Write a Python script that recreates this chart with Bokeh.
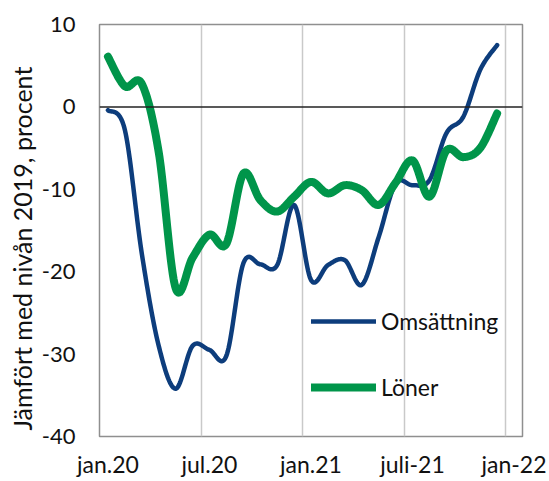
import numpy as np
from bokeh.plotting import figure
from bokeh.models import (Range1d, FixedTicker, Span, Legend, LegendItem, Title)
from bokeh.embed import file_html
from bokeh.resources import INLINE

# ---- data (monthly, jan 2020 - dec 2021) ----
months = ["jan.20", "feb.20", "mar.20", "apr.20", "maj.20", "jun.20",
          "jul.20", "aug.20", "sep.20", "okt.20", "nov.20", "dec.20",
          "jan.21", "feb.21", "mar.21", "apr.21", "maj.21", "jun.21",
          "juli-21", "aug.21", "sep.21", "okt.21", "nov.21", "dec.21"]
omsattning = [-0.4, -2.8, -17.8, -29.0, -34.2, -29.0, -29.5, -30.2,
              -19.0, -19.1, -19.2, -11.9, -21.0, -19.2, -18.6, -21.6,
              -15.8, -9.3, -9.5, -8.9, -3.2, -1.2, 4.5, 7.5]
loner = [6.1, 2.5, 2.8, -5.5, -22.0, -18.3, -15.5, -16.6,
         -8.1, -11.3, -12.7, -10.9, -9.1, -10.5, -9.5, -10.1,
         -11.9, -9.2, -6.5, -10.9, -5.3, -6.1, -5.0, -0.8]
x_tick_labels = ["jan.20", "jul.20", "jan.21", "juli-21", "jan-22"]
x_tick_month_index = [0, 6, 12, 18, 24]
y_ticks = [-40, -30, -20, -10, 0, 10]
y_tick_labels = ["-40", "-30", "-20", "-10", "0", "10"]

FONT = "Lato"
TXT = "#111111"


def smooth(xs, ys, n=24):
    """Excel-like smoothed line (Catmull-Rom as cubic Bezier)."""
    P = np.column_stack([xs, ys]).astype(float)
    m = len(P)
    ox, oy = [], []
    for i in range(m - 1):
        p0 = P[i - 1] if i > 0 else P[i]
        p1 = P[i]
        p2 = P[i + 1]
        p3 = P[i + 2] if i + 2 < m else P[i + 1]
        c1 = p1 + (p2 - p0) / 6.0
        c2 = p2 - (p3 - p1) / 6.0
        t = np.linspace(0, 1, n, endpoint=(i == m - 2))[:, None]
        b = ((1 - t) ** 3) * p1 + 3 * ((1 - t) ** 2) * t * c1 + 3 * (1 - t) * t ** 2 * c2 + t ** 3 * p2
        ox.extend(b[:, 0])
        oy.extend(b[:, 1])
    return ox, oy


x = [i + 0.5 for i in range(len(months))]

p = figure(width=549, height=481, output_backend="svg", toolbar_location=None,
           x_range=Range1d(0, 25), y_range=Range1d(-40, 10),
           min_border_left=99, min_border_right=27, min_border_top=24, min_border_bottom=45)
p.background_fill_color = "white"
p.border_fill_color = "white"
p.outline_line_color = "#8f8f8f"
p.outline_line_width = 1.5

# grid
p.ygrid.grid_line_color = None
p.xgrid.ticker = FixedTicker(ticks=x_tick_month_index)
p.xgrid.grid_line_color = "#c9c9c9"
p.xgrid.grid_line_width = 1.5

# axes
p.xaxis.ticker = FixedTicker(ticks=[t + 0.5 for t in x_tick_month_index])
p.xaxis.major_label_overrides = {t + 0.5: lab for t, lab in zip(x_tick_month_index, x_tick_labels)}
p.yaxis.ticker = FixedTicker(ticks=y_ticks)
p.yaxis.major_label_overrides = dict(zip(y_ticks, y_tick_labels))
for ax in (p.xaxis, p.yaxis):
    ax.axis_line_color = None
    ax.major_tick_line_color = None
    ax.minor_tick_line_color = None
    ax.major_tick_out = 0
    ax.major_tick_in = 0
    ax.minor_tick_out = 0
    ax.major_label_text_font = FONT
    ax.major_label_text_color = TXT
p.xaxis.major_label_text_font_size = "23px"
p.yaxis.major_label_text_font_size = "22px"
p.xaxis.major_label_standoff = 13
p.yaxis.major_label_standoff = 24

p.add_layout(Span(location=0, dimension="width", line_color="#222222", line_width=1.5))

sx, sy = smooth(x, omsattning)
r1 = p.line(sx, sy, line_color="#0d3d7c", line_width=4.5, line_join="round", line_cap="round")
gx, gy = smooth(x, loner)
r2 = p.line(gx, gy, line_color="#00954a", line_width=8, line_join="round", line_cap="round")

legend = Legend(items=[LegendItem(label="Omsättning", renderers=[r1]),
                       LegendItem(label="Löner", renderers=[r2])],
                location=(212, 35), orientation="vertical",
                glyph_width=65, glyph_height=20, label_height=20,
                spacing=38, padding=0, margin=0, label_standoff=5,
                background_fill_alpha=0, border_line_color=None,
                label_text_font=FONT, label_text_font_size="23px",
                label_text_color=TXT)
p.add_layout(legend)

p.add_layout(Title(text="Jämfört med nivån 2019, procent", align="left", offset=6,
                   standoff=3, text_font=FONT, text_font_size="25px",
                   text_font_style="normal", text_color=TXT), "left")

open("out.html", "w").write(file_html(p, INLINE))
